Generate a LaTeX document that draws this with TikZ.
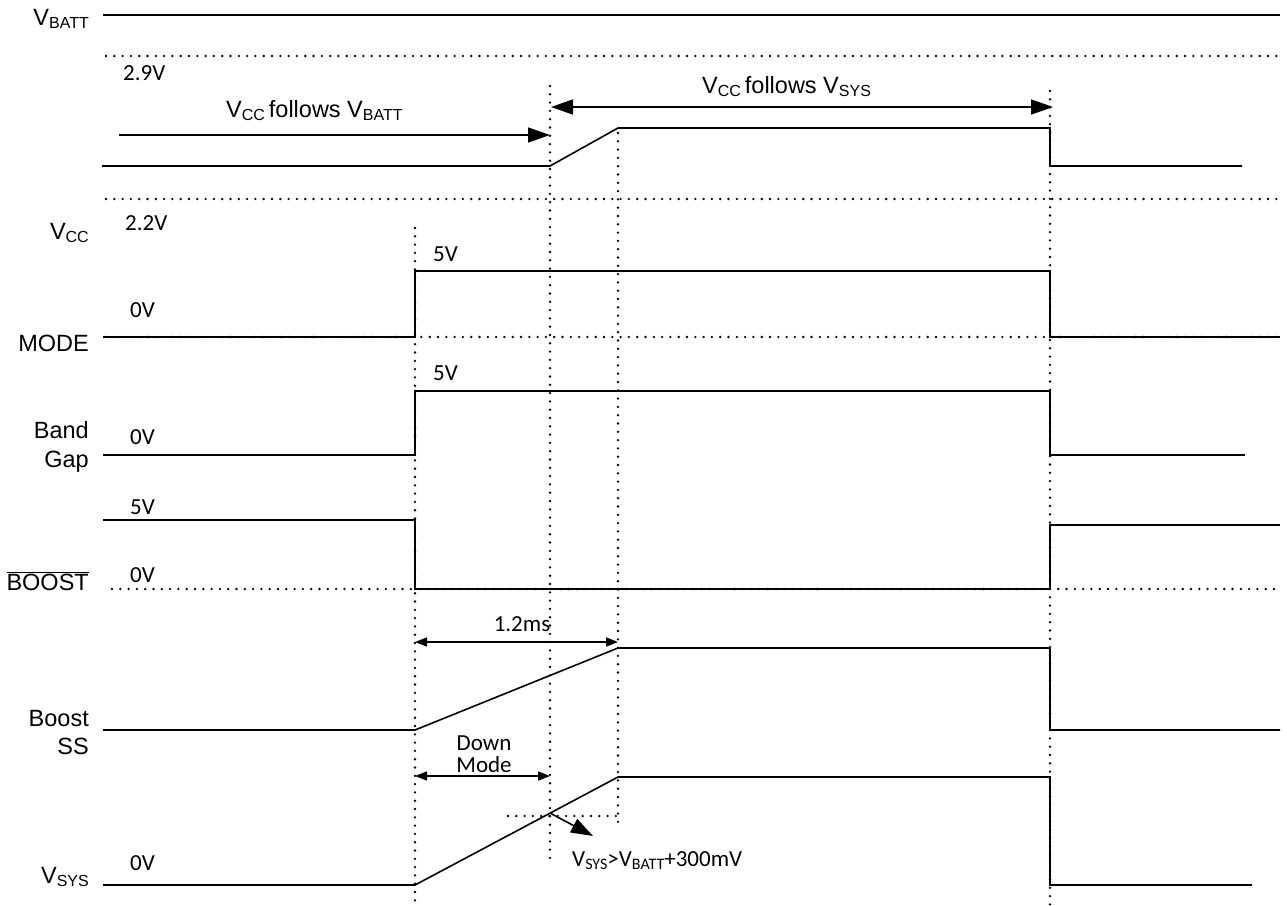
\documentclass[tikz,border=0pt]{standalone}
\usepackage{fontspec}
\setmainfont{Liberation Sans}
\newfontfamily\calfont{Carlito}
\usetikzlibrary{arrows.meta}
\newcommand{\sbs}[1]{\raisebox{-0.16em}{\fontsize{16}{16}\selectfont #1}}
\newcommand{\csb}[1]{\raisebox{-0.16em}{\fontsize{16}{16}\selectfont #1}}
\begin{document}
\begin{tikzpicture}[x=1pt,y=-1pt,
  sig/.style={line width=1.6pt, line join=miter},
  dots/.style={line width=2.6pt, dash pattern=on 0pt off 8.3pt, line cap=round},
  lbl/.style={font=\fontsize{23.5}{27}\selectfont, inner sep=0pt},
  val/.style={font=\calfont\fontsize{23}{26}\selectfont, inner sep=0pt},
  bigarr/.style={line width=1.6pt, -{Triangle[length=22pt,width=15pt]}},
  bigdbl/.style={line width=1.6pt, {Triangle[length=22pt,width=15pt]}-{Triangle[length=22pt,width=15pt]}},
  smalldbl/.style={line width=1.6pt, {Triangle[length=12pt,width=9pt]}-{Triangle[length=12pt,width=9pt]}}
]
\useasboundingbox (0,0) rectangle (1287,905);
\fill[white] (0,0) rectangle (1287,905);

% horizontal dotted reference lines
\draw[dots] (106,56) -- (1280,56);
\draw[dots] (106,199) -- (1280,199);
\draw[dots] (106,337) -- (1280,337);
\draw[dots] (112,589) -- (1280,589);
\draw[dots] (508,816) -- (620,816);

% vertical dotted time markers
\draw[dots] (415,228) -- (415,905);
\draw[dots] (550,86) -- (550,866);
\draw[dots] (618,133) -- (618,830);
\draw[dots] (1050,91) -- (1050,905);

% signal traces
\draw[sig] (103,15) -- (1280,15);
\draw[sig] (102,166) -- (550,166) -- (618,128) -- (1050,128) -- (1050,166) -- (1242,166);
\draw[sig] (103,337) -- (415,337) -- (415,271) -- (1050,271) -- (1050,337) -- (1280,337);
\draw[sig] (103,455) -- (415,455) -- (415,391) -- (1050,391) -- (1050,455) -- (1245,455);
\draw[sig] (103,520) -- (415,520) -- (415,589) -- (1050,589) -- (1050,525) -- (1280,525);
\draw[sig] (103,730) -- (415,730) -- (618,648) -- (1050,648) -- (1050,730) -- (1280,730);
\draw[sig] (103,885) -- (415,885) -- (618,777) -- (1050,777) -- (1050,885) -- (1252,885);

% arrows
\coordinate (fb0) at (119,135);
\coordinate (fb1) at (550,135);
\draw[bigarr] (fb0) -- (fb1);
\coordinate (fs0) at (551,107);
\coordinate (fs1) at (1053,107);
\draw[bigdbl] (fs0) -- (fs1);
\coordinate (ms0) at (415,642);
\coordinate (ms1) at (618,642);
\draw[smalldbl] (ms0) -- (ms1);
\coordinate (dm0) at (415,776);
\coordinate (dm1) at (550,776);
\draw[smalldbl] (dm0) -- (dm1);
\coordinate (x0) at (550,813);
\coordinate (x1) at (593,836);
\draw[bigarr] (x0) -- (x1);

% left labels
\node[lbl, anchor=base east] (lvbatt) at (89,25) {V\sbs{BATT}};
\node[lbl, anchor=base east] (lvcc) at (89,239) {V\sbs{CC}};
\node[lbl, anchor=base east] (lmode) at (89,351) {MODE};
\node[lbl, anchor=base east] (lband) at (89,438) {Band};
\node[lbl, anchor=base east] (lgap) at (89,467) {Gap};
\node[lbl, anchor=base east] (lboost) at (89,590) {$\overline{\mbox{BOOST}}$};
\node[lbl, anchor=base east] (lbss) at (89,726) {Boost};
\node[lbl, anchor=base east] (lss) at (89,754) {SS};
\node[lbl, anchor=base east] (lvsys) at (89,883) {V\sbs{SYS}};

% arrow labels
\node[lbl, anchor=base west] (tfb) at (226,117) {V\sbs{CC}\,follows V\sbs{BATT}};
\node[lbl, anchor=base west] (tfs) at (702,93) {V\sbs{CC}\,follows V\sbs{SYS}};

% values
\node[val, anchor=base west] (v29) at (123,80) {2.9V};
\node[val, anchor=base west] (v22) at (125,230) {2.2V};
\node[val, anchor=base west] (vm0) at (130,317) {0V};
\node[val, anchor=base west] (vm5) at (433,261) {5V};
\node[val, anchor=base west] (vb5) at (433,380) {5V};
\node[val, anchor=base west] (vb0) at (130,444) {0V};
\node[val, anchor=base west] (vo5) at (130,514) {5V};
\node[val, anchor=base west] (vo0) at (130,582) {0V};
\node[val, anchor=base] (v12) at (522,631) {1.2ms};
\node[val, anchor=base] (vdown) at (484,750) {Down};
\node[val, anchor=base] (vmodeb) at (484,772) {Mode};
\node[val, anchor=base west] (vs0) at (130,870) {0V};
\node[val, anchor=base west] (vcond) at (572,866) {V\csb{SYS}>V\csb{BATT}+300mV};
\end{tikzpicture}
\end{document}
